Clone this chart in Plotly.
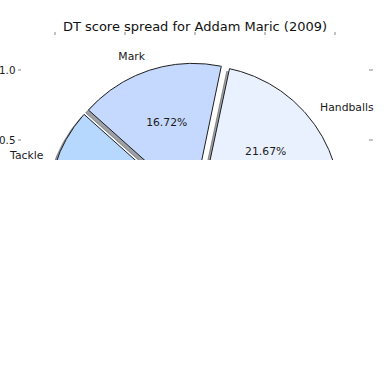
import numpy as np
import plotly.graph_objects as go

# ---- data ----
labels = ["Handballs", "Mark", "Tackle", "Kick", "Goal", "Behind", "Free kick"]
values = [21.67, 16.72, 12.33, 42.0, 5.3, 1.0, 0.98]
colors = ["#EAF1FE", "#C5D8FE", "#B6D7FE", "#9CC3F5", "#DCE8FB", "#A9CBF7", "#D0E2FD"]
explode = [0.05, 0.05, 0.05, 0.05, 0.05, 0.05, 0.05]
xtick_vals = [-1.0, -0.5, 0.0, 0.5, 1.0]
ytick_vals = [0.5, 1.0]
ytick_text = ["0.5", "1.0"]
title_text = "DT score spread for Addam Maric (2009)"

# ---- styling / geometry ----
FONT = "DejaVu Sans"
x_range = [-1.236, 1.236]
y_range = [0.357, 1.243]
label_dist = 1.1
pct_dist = 0.6
shadow_off = (-0.02, -0.02)


def hex_rgb(h):
    h = h.lstrip("#")
    return tuple(int(h[i:i + 2], 16) for i in (0, 2, 4))


vals = np.array(values, dtype=float)
frac = vals / vals.sum()
bounds = np.concatenate([[0.0], np.cumsum(frac)]) * 360.0  # startangle 0, counter-clockwise


def wedge_path(t1, t2, cx, cy):
    th = np.radians(np.linspace(t1, t2, 240))
    xs = np.concatenate([[cx], cx + np.cos(th), [cx]])
    ys = np.concatenate([[cy], cy + np.sin(th), [cy]])
    return xs, ys


fig = go.Figure()

centers = []
for i in range(len(vals)):
    mid = np.radians((bounds[i] + bounds[i + 1]) / 2)
    centers.append((explode[i] * np.cos(mid), explode[i] * np.sin(mid), mid))

# shadows (below all wedges)
for i in range(len(vals)):
    cx, cy, mid = centers[i]
    xs, ys = wedge_path(bounds[i], bounds[i + 1], cx + shadow_off[0], cy + shadow_off[1])
    r, g, b = hex_rgb(colors[i])
    sc = f"rgba({r*0.3:.0f},{g*0.3:.0f},{b*0.3:.0f},0.5)"
    fig.add_trace(go.Scatter(x=xs, y=ys, mode="lines", fill="toself", fillcolor=sc,
                             line=dict(color=sc, width=1), hoverinfo="skip", showlegend=False))

# wedges
for i in range(len(vals)):
    cx, cy, mid = centers[i]
    xs, ys = wedge_path(bounds[i], bounds[i + 1], cx, cy)
    fig.add_trace(go.Scatter(x=xs, y=ys, mode="lines", fill="toself", fillcolor=colors[i],
                             line=dict(color="#1e1e1e", width=1), name=labels[i],
                             hoverinfo="name", showlegend=False))

# labels and percentage texts (only those within the visible window)
lx, ly, lt, lp = [], [], [], []
px, py, pt = [], [], []
for i in range(len(vals)):
    cx, cy, mid = centers[i]
    x_l = cx + label_dist * np.cos(mid)
    y_l = cy + label_dist * np.sin(mid)
    if y_range[0] <= y_l <= y_range[1]:
        lx.append(x_l); ly.append(y_l); lt.append(labels[i])
        lp.append("middle right" if x_l > 0 else "middle left")
    x_p = cx + pct_dist * np.cos(mid)
    y_p = cy + pct_dist * np.sin(mid)
    if y_range[0] <= y_p <= y_range[1]:
        px.append(x_p); py.append(y_p); pt.append(f"{frac[i]*100:.2f}%")

fig.add_trace(go.Scatter(x=lx, y=ly, text=lt, mode="text", textposition=lp,
                         textfont=dict(family=FONT, size=10.8, color="#1a1a1a"),
                         cliponaxis=False, hoverinfo="skip", showlegend=False))
fig.add_trace(go.Scatter(x=px, y=py, text=pt, mode="text", textposition="middle center",
                         textfont=dict(family=FONT, size=10.8, color="#1a1a1a"),
                         cliponaxis=False, hoverinfo="skip", showlegend=False))

TICKC = "#c2c2c2"
fig.update_layout(
    width=390, height=390,
    margin=dict(l=22, r=22, t=36, b=230, pad=0, autoexpand=False),
    paper_bgcolor="white", plot_bgcolor="white",
    showlegend=False,
    title=dict(text=title_text, x=0.5, xanchor="center", y=1 - 26 / 390, yanchor="middle",
               yref="container", font=dict(family=FONT, size=13, color="#111111")),
    font=dict(family=FONT, size=10.8, color="#1a1a1a"),
    xaxis=dict(range=x_range, side="top", showgrid=False, zeroline=False, showline=False,
               automargin=False,
               ticks="outside", ticklen=3.5, tickwidth=1.5, tickcolor=TICKC,
               tickvals=xtick_vals, showticklabels=False, fixedrange=True),
    yaxis=dict(range=y_range, showgrid=False, zeroline=False,
               showline=True, linewidth=1, linecolor="rgba(255,255,255,0)",
               mirror="allticks", automargin=False,
               ticks="outside", ticklen=3.5, tickwidth=1.5, tickcolor=TICKC,
               tickvals=ytick_vals, ticktext=ytick_text,
               tickfont=dict(family=FONT, size=10.3, color="#1a1a1a"), fixedrange=True),
)

fig.write_html("out.html")
